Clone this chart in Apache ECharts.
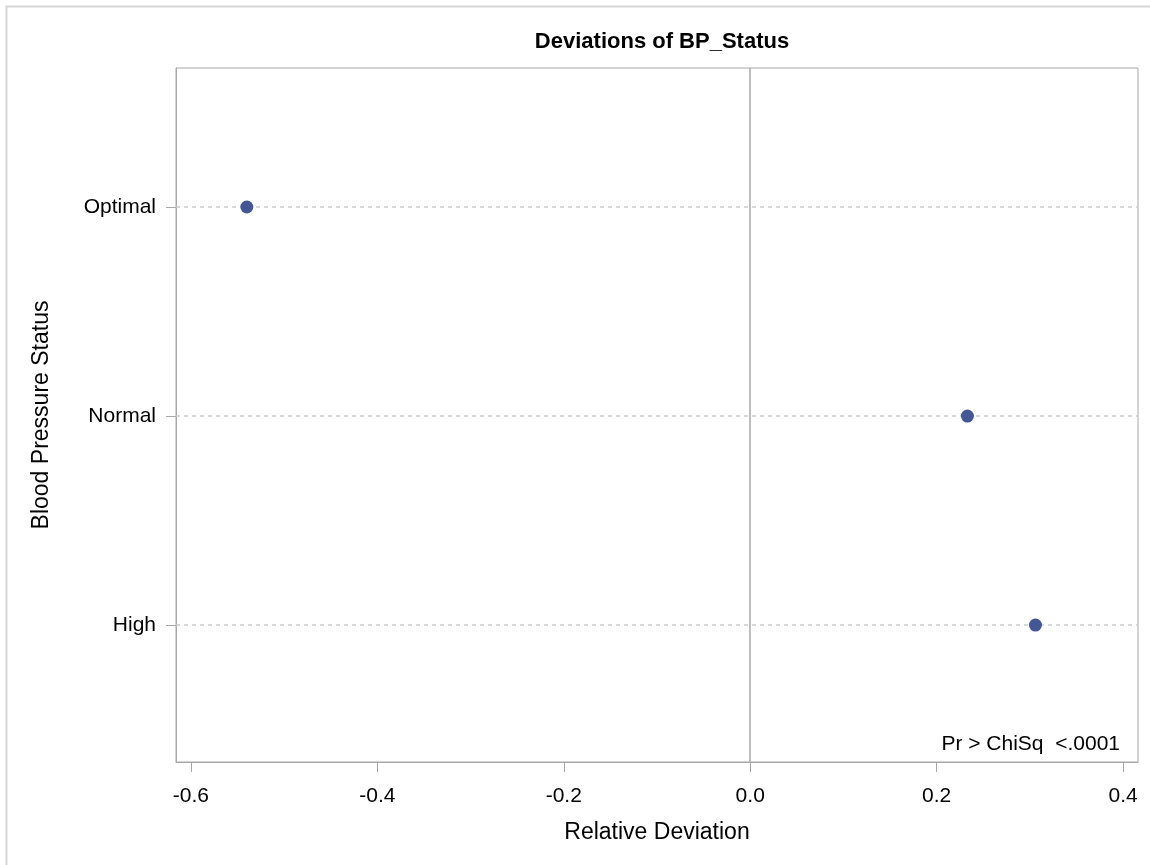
<!DOCTYPE html>
<html>
<head>
<meta charset="utf-8">
<script src="https://cdn.jsdelivr.net/npm/echarts@6/dist/echarts.min.js"></script>
<style>html,body{margin:0;padding:0;background:#fff;}#c{width:1150px;height:865px;}</style>
</head>
<body>
<div id="c"></div>
<script>
// Categories from bottom to top
const categories = ['High', 'Normal', 'Optimal'];
const deviations = [0.306, 0.233, -0.54];
const xTicks = [-0.6, -0.4, -0.2, 0.0, 0.2, 0.4];
const titleText = 'Deviations of BP_Status';
const xAxisName = 'Relative Deviation';
const yAxisName = 'Blood Pressure Status';
const insetText = 'Pr > ChiSq  <.0001';

const catPos = categories.map((c, i) => i + 1);
const points = deviations.map((v, i) => [v, catPos[i]]);

const chart = echarts.init(document.getElementById('c'), null, {renderer: 'canvas'});
const FONT = 'Liberation Sans, Arial, sans-serif';
const GRID = {left: 176, right: 12, top: 68, bottom: 103};

chart.setOption({
  animation: false,
  backgroundColor: '#fff',
  title: {
    text: titleText,
    left: GRID.left + (1150 - GRID.left - GRID.right) / 2,
    textAlign: 'center',
    top: 26,
    textStyle: {fontFamily: FONT, fontSize: 22, fontWeight: 'bold', color: '#000'}
  },
  grid: Object.assign({show: true, borderColor: '#a8a8a8', borderWidth: 1, containLabel: false}, GRID),
  xAxis: {
    type: 'value',
    min: -0.616,
    max: 0.416,
    name: xAxisName,
    nameLocation: 'middle',
    nameGap: 59,
    nameTextStyle: {fontFamily: FONT, fontSize: 23, color: '#000'},
    axisLine: {show: true, onZero: false, lineStyle: {color: '#a8a8a8'}},
    axisTick: {show: true, customValues: xTicks, length: 10, inside: false, lineStyle: {color: '#a8a8a8'}},
    axisLabel: {customValues: xTicks, fontFamily: FONT, fontSize: 21, color: '#000', margin: 24,
      formatter: v => (Math.abs(v) < 1e-9 ? 0 : v).toFixed(1)},
    splitLine: {show: false}
  },
  yAxis: {
    type: 'value',
    min: 0.345,
    max: 3.665,
    name: yAxisName,
    nameLocation: 'middle',
    nameGap: 123,
    nameRotate: 90,
    nameTextStyle: {fontFamily: FONT, fontSize: 23, color: '#000'},
    axisLine: {show: true, onZero: false, lineStyle: {color: '#a8a8a8'}},
    axisTick: {show: true, customValues: catPos, length: 10, lineStyle: {color: '#a8a8a8'}},
    axisLabel: {customValues: catPos, fontFamily: FONT, fontSize: 21, color: '#000', margin: 20,
      formatter: v => categories[Math.round(v) - 1] || ''},
    splitLine: {show: false}
  },
  series: [{
    type: 'scatter',
    data: points,
    symbol: 'circle',
    symbolSize: 13,
    itemStyle: {color: '#445694', opacity: 1},
    z: 5,
    markLine: {
      silent: true,
      symbol: 'none',
      label: {show: false},
      animation: false,
      data: catPos.map(p => ({yAxis: p, lineStyle: {type: [4, 4], color: '#cccccc', width: 1.5}}))
        .concat([{xAxis: 0, lineStyle: {type: 'solid', color: '#a8a8a8', width: 1.5}}])
    }
  }],
  graphic: [
    {type: 'rect', shape: {x: 6.5, y: 6.5, width: 1160, height: 880},
      style: {fill: null, stroke: '#d6d6d6', lineWidth: 2}, silent: true, z: -10},
    {type: 'text', x: 1120, y: 744,
      style: {text: insetText, fontFamily: FONT, fontSize: 21, fill: '#000', textAlign: 'right', textVerticalAlign: 'middle'}}
  ]
});
</script>
</body>
</html>
